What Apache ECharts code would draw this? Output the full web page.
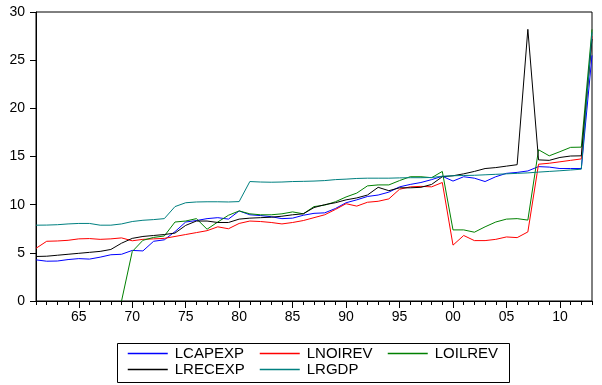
<!DOCTYPE html>
<html>
<head>
<meta charset="utf-8">
<script src="https://cdn.jsdelivr.net/npm/echarts@6/dist/echarts.min.js"></script>
<style>
  html, body { margin: 0; padding: 0; background: #fff; }
  #chart { width: 602px; height: 385px; }
</style>
</head>
<body>
<div id="chart"></div>
<script>
// years 1961 - 2013
var years = [];
for (var y = 1961; y <= 2013; y++) years.push(String(y));

var names = ['LCAPEXP', 'LNOIREV', 'LOILREV', 'LRECEXP', 'LRGDP'];

var lcapexp = [4.27, 4.13, 4.15, 4.3, 4.4, 4.35, 4.55, 4.8, 4.85, 5.25,
  5.2, 6.2, 6.35, 7.2, 8.2, 8.35, 8.55, 8.65, 8.5, 9.35,
  8.95, 8.87, 8.75, 8.55, 8.6, 8.9, 9.1, 9.15, 9.6, 10.2,
  10.5, 10.85, 11.0, 11.3, 11.85, 12.1, 12.3, 12.6, 12.95, 12.45,
  12.9, 12.75, 12.4, 12.9, 13.25, 13.35, 13.5, 13.95, 13.9, 13.75,
  13.75, 13.75, 25.5];

var lnoirev = [5.47, 6.2, 6.23, 6.3, 6.45, 6.48, 6.4, 6.45, 6.55, 6.25,
  6.4, 6.45, 6.5, 6.7, 6.9, 7.1, 7.3, 7.7, 7.5, 8.05,
  8.3, 8.25, 8.15, 8.0, 8.15, 8.35, 8.65, 8.95, 9.5, 10.1,
  9.85, 10.25, 10.35, 10.6, 11.6, 11.85, 11.9, 11.85, 12.3, 5.8,
  6.8, 6.27, 6.27, 6.4, 6.65, 6.58, 7.17, 14.2, 14.3, 14.45,
  14.6, 14.75, 27.5];

var loilrev = [null, null, null, null, null, null, null, null, 0, 5.13,
  6.3, 6.6, 6.75, 8.2, 8.3, 8.55, 7.45, 8.2, 8.9, 9.35,
  9.05, 8.95, 8.95, 9.05, 9.25, 9.05, 9.8, 9.95, 10.3, 10.8,
  11.2, 11.95, 12.05, 12.05, 12.5, 12.9, 12.9, 12.8, 13.45, 7.38,
  7.38, 7.14, 7.7, 8.2, 8.5, 8.55, 8.4, 15.7, 15.07, 15.5,
  15.95, 15.97, 28.2];

var lrecexp = [4.62, 4.65, 4.75, 4.85, 4.95, 5.05, 5.15, 5.35, 6.0, 6.5,
  6.7, 6.8, 6.9, 7.05, 7.85, 8.3, 8.3, 8.15, 8.15, 8.5,
  8.6, 8.65, 8.7, 8.8, 8.95, 9.05, 9.7, 10.0, 10.2, 10.5,
  10.7, 11.0, 11.8, 11.45, 11.75, 11.75, 11.8, 12.1, 12.9, 13.0,
  13.2, 13.45, 13.75, 13.85, 14.0, 14.15, 28.2, 14.65, 14.6, 14.9,
  15.05, 15.07, 27.2];

var lrgdp = [7.87, 7.88, 7.92, 8.0, 8.05, 8.05, 7.87, 7.87, 8.0, 8.25,
  8.38, 8.45, 8.55, 9.8, 10.2, 10.28, 10.3, 10.3, 10.28, 10.32,
  12.4, 12.35, 12.33, 12.35, 12.4, 12.42, 12.45, 12.5, 12.6, 12.65,
  12.72, 12.75, 12.75, 12.75, 12.78, 12.8, 12.8, 12.82, 12.95, 13.0,
  13.03, 13.05, 13.1, 13.15, 13.2, 13.25, 13.3, 13.38, 13.45, 13.52,
  13.6, 13.68, 27.9];

var colors = ['#0000ff', '#ff0000', '#008000', '#000000', '#008080'];
var values = [lcapexp, lnoirev, loilrev, lrecexp, lrgdp];

var font = 'Liberation Sans, Arial, sans-serif';

var isMajor = function (idx, val) { return Number(val) % 5 === 0; };

var series = [];
for (var i = 0; i < names.length; i++) {
  series.push({
    name: names[i],
    type: 'line',
    data: values[i],
    symbol: 'none',
    connectNulls: false,
    lineStyle: { width: 1, color: colors[i] },
    itemStyle: { color: colors[i] },
    animation: false
  });
}

// legend slots (3 columns, 2 rows), one legend per series
var legendPos = [[127, 346], [259, 346], [387, 346], [127, 362], [259, 362]];
var legends = [];
for (var k = 0; k < names.length; k++) {
  legends.push({
    data: [names[k]],
    left: legendPos[k][0],
    top: legendPos[k][1],
    itemWidth: 40,
    itemHeight: 14,
    itemGap: 0,
    padding: 0,
    itemStyle: { color: 'rgba(0,0,0,0)', borderColor: 'rgba(0,0,0,0)', borderWidth: 0 },
    lineStyle: { width: 1.5, color: colors[k] },
    textStyle: { fontFamily: font, fontSize: 15, color: '#000', padding: [0, 0, 0, 2] },
    selectedMode: false
  });
}

var chart = echarts.init(document.getElementById('chart'), null, { renderer: 'canvas' });
var option = {
  animation: false,
  backgroundColor: '#fff',
  color: colors,
  grid: {
    left: 36, right: 10, top: 12, bottom: 84,
    show: true, borderColor: '#000', borderWidth: 1
  },
  legend: legends,
  graphic: [{
    type: 'rect',
    shape: { x: 117.5, y: 343.5, width: 392, height: 39 },
    style: { fill: 'none', stroke: '#000', lineWidth: 1 },
    z: 100
  }],
  xAxis: [{
    type: 'category',
    data: years,
    boundaryGap: false,
    axisLine: { show: true, lineStyle: { color: '#000', width: 1 } },
    axisTick: { show: true, interval: isMajor, length: 7, lineStyle: { color: '#000' } },
    axisLabel: {
      interval: isMajor,
      formatter: function (v) { return v.slice(2); },
      fontFamily: font, fontSize: 14, color: '#000', margin: 9
    },
    splitLine: { show: false }
  }, {
    type: 'category',
    data: years,
    boundaryGap: false,
    position: 'bottom',
    axisLine: { show: false },
    axisTick: { show: true, interval: 0, length: 4, lineStyle: { color: '#000' } },
    axisLabel: { show: false },
    splitLine: { show: false }
  }],
  yAxis: {
    type: 'value',
    min: 0,
    max: 30,
    interval: 5,
    axisLine: { show: true, lineStyle: { color: '#000', width: 1 } },
    axisTick: { show: true, length: 6, lineStyle: { color: '#000' } },
    axisLabel: { fontFamily: font, fontSize: 14, color: '#000', margin: 11 },
    splitLine: { show: false }
  },
  series: series
};
chart.setOption(option);
</script>
</body>
</html>
